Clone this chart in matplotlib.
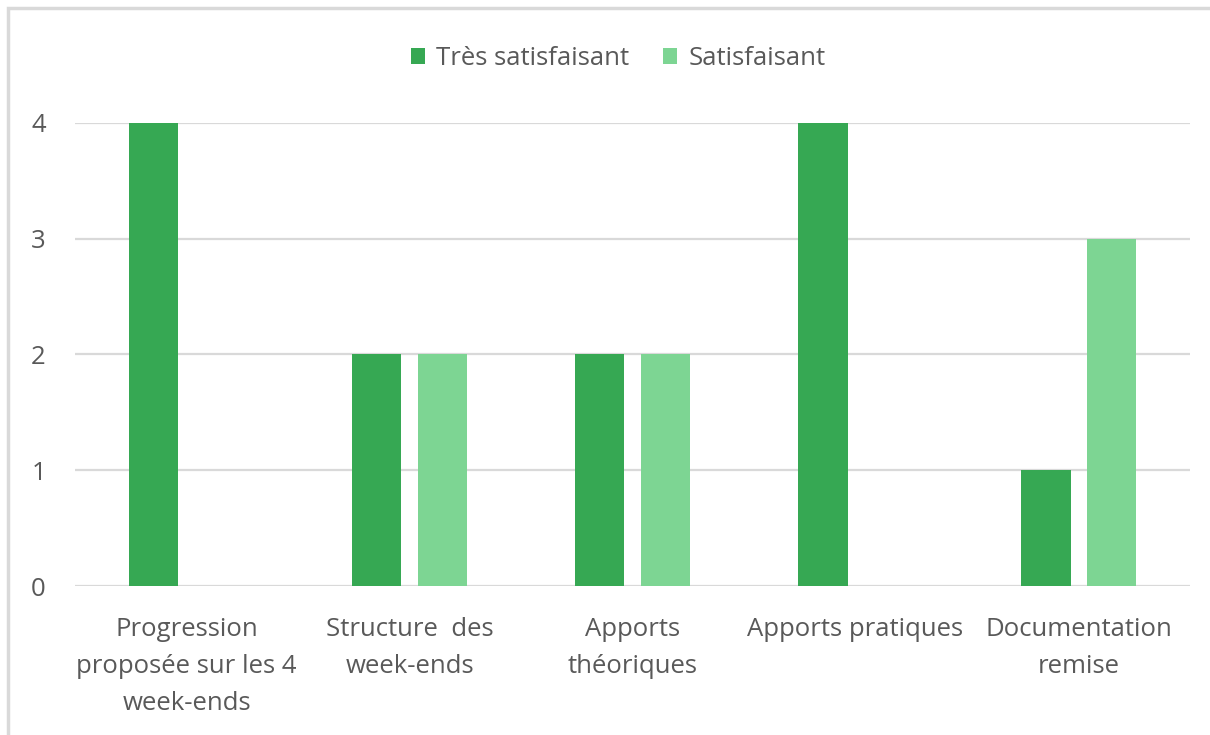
import numpy as np
import matplotlib
matplotlib.use('Agg')
import matplotlib.pyplot as plt
from matplotlib.patches import Rectangle

# data
categories = ['Progression\nproposée sur les 4\nweek-ends', 'Structure  des\nweek-ends',
              'Apports\nthéoriques', 'Apports pratiques', 'Documentation\nremise']
tres_satisfaisant = [4, 2, 2, 4, 1]
satisfaisant = [0, 2, 2, 0, 3]
series_names = ['Très satisfaisant', 'Satisfaisant']

dark_green = '#36A853'
light_green = '#7DD593'
text_grey = '#595959'

plt.rcParams['font.family'] = ['Open Sans', 'DejaVu Sans']

fig = plt.figure(figsize=(12.1, 7.35), dpi=100)
ax = fig.add_axes([0.062, 0.2027, 0.9215, 0.63])

x = np.arange(len(categories))
w = 0.22
off = 0.146
b1 = ax.bar(x - off, tres_satisfaisant, w, color=dark_green, label=series_names[0], zorder=3)
b2 = ax.bar(x + off, satisfaisant, w, color=light_green, label=series_names[1], zorder=3)

ax.set_xlim(-0.5, len(categories) - 0.5)
ax.set_ylim(0, 4)
ax.set_yticks(range(0, 5))
ax.yaxis.grid(True, color='#D9D9D9', linewidth=1.6, zorder=0)
ax.set_axisbelow(True)
for s in ax.spines.values():
    s.set_visible(False)
ax.tick_params(axis='both', length=0, labelsize=18.5, labelcolor=text_grey)
ax.tick_params(axis='y', pad=21)
ax.tick_params(axis='x', pad=22)
ax.set_xticks(x)
ax.set_xticklabels(categories, linespacing=1.63)

fig.legend(handles=[b1, b2], loc='center', bbox_to_anchor=(0.511, 0.92), ncol=2,
           frameon=False, fontsize=18.5, labelcolor=text_grey, handlelength=0.55,
           handleheight=0.55, handletextpad=0.45, columnspacing=1.3)

# chart border
fig.patches.append(Rectangle((8 / 1210, -0.1), 1.2, 1.1 - 8 / 735, transform=fig.transFigure,
                             fill=False, edgecolor='#D9D9D9', linewidth=2.5))

fig.savefig('out.png', dpi=100)
